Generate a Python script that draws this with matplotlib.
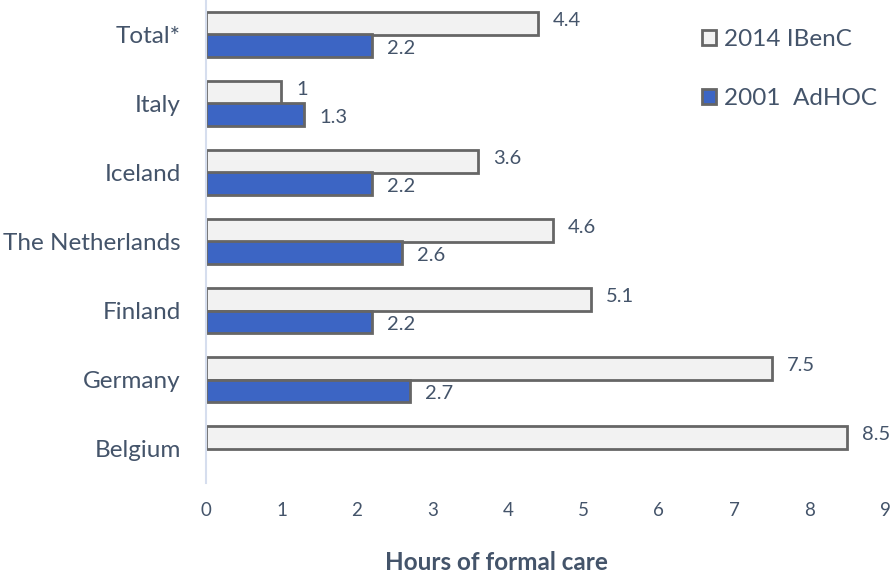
import numpy as np
import matplotlib
matplotlib.use('agg')
import matplotlib.pyplot as plt

# data, top to bottom as in the picture
countries = ['Total*', 'Italy', 'Iceland', 'The Netherlands', 'Finland', 'Germany', 'Belgium']
ibenc_2014 = [4.4, 1, 3.6, 4.6, 5.1, 7.5, 8.5]
adhoc_2001 = [2.2, 1.3, 2.2, 2.6, 2.2, 2.7, None]
series_names = ['2014 IBenC', '2001  AdHOC']

txt = '#44546A'
plt.rcParams['font.family'] = ['Lato', 'DejaVu Sans']

fig = plt.figure(figsize=(8.95, 5.73), dpi=100)
ax = fig.add_axes((206 / 895, 90 / 573, 679 / 895, 483 / 573))

n = len(countries)
y = np.arange(n)[::-1]
h = 0.33

w_vals = np.array(ibenc_2014, dtype=float)
b_vals = np.array([np.nan if v is None else v for v in adhoc_2001], dtype=float)

bw = ax.barh(y + h / 2, w_vals, height=h, color='#F2F2F2', edgecolor='#666666',
             linewidth=2, label=series_names[0])
bb = ax.barh(y - h / 2, np.nan_to_num(b_vals), height=h, color='#3C65C4', edgecolor='#666666',
             linewidth=2, label=series_names[1])
for rect, v in zip(bb, b_vals):
    if np.isnan(v):
        rect.set_visible(False)

for yy, v in zip(y, w_vals):
    ax.text(v + 0.2, yy + h / 2 + 0.04, '{:g}'.format(v), va='center', ha='left',
            fontsize=14.5, color=txt)
for yy, v in zip(y, b_vals):
    if not np.isnan(v):
        ax.text(v + 0.2, yy - h / 2 - 0.04, '{:g}'.format(v), va='center', ha='left',
                fontsize=14.5, color=txt)

ax.set_xlim(0, 9)
ax.set_ylim(-0.5, n - 0.5)
ax.set_xticks(range(10))
ax.set_yticks(y)
ax.set_yticklabels(countries, fontsize=17.5, color=txt)
ax.tick_params(axis='x', labelsize=13.5, labelcolor=txt, length=0, pad=14)
ax.tick_params(axis='y', length=0, pad=18)
for s in ['top', 'right', 'bottom']:
    ax.spines[s].set_visible(False)
ax.spines['left'].set_color('#D6DEEE')
ax.spines['left'].set_linewidth(1.5)

# axis title sits left of the axes centre in the original
fig.text(496 / 895, 11 / 573, 'Hours of formal care', fontsize=17.5, fontweight='bold',
         color=txt, ha='center', va='center')

leg = ax.legend(loc='upper right', bbox_to_anchor=(1.02, 0.985), frameon=False, fontsize=17.5,
                handlelength=0.6, handleheight=0.6, handletextpad=0.3, labelspacing=1.55,
                labelcolor=txt)

fig.savefig('out.png', dpi=100)
